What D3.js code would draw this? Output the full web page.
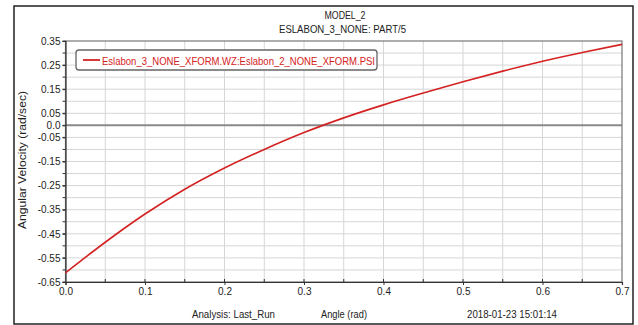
<!DOCTYPE html>
<html><head><meta charset="utf-8">
<script src="https://cdn.jsdelivr.net/npm/d3@7"></script>
<style>html,body{margin:0;padding:0;background:#fff;}svg{display:block;}</style>
</head><body>
<svg id="c" width="638" height="325"></svg>
<script>
const angle = [0, 0.05, 0.1, 0.15, 0.2, 0.25, 0.3, 0.35, 0.4, 0.45, 0.5, 0.55, 0.6, 0.65, 0.7];
const angVel = [-0.612, -0.485, -0.368, -0.265, -0.177, -0.100, -0.030, 0.031, 0.085, 0.134, 0.181, 0.225, 0.266, 0.302, 0.336];
const xTickLabels = ["0.0","0.1","0.2","0.3","0.4","0.5","0.6","0.7"];
const xTickValues = [0, 0.1, 0.2, 0.3, 0.4, 0.5, 0.6, 0.7];
const yTickValues = [0.35, 0.25, 0.15, 0.05, 0.0, -0.05, -0.15, -0.25, -0.35, -0.45, -0.55, -0.65];
const yTickLabels = ["0.35","0.25","0.15","0.05","0.0","-0.05","-0.15","-0.25","-0.35","-0.45","-0.55","-0.65"];
const title1 = "MODEL_2";
const title2 = "ESLABON_3_NONE: PART/5";
const legendLabel = "Eslabon_3_NONE_XFORM.WZ:Eslabon_2_NONE_XFORM.PSI";

const svg = d3.select("#c");
const FONT = "'Liberation Sans', Arial, sans-serif";
const L = 65.5, R = 622, T = 41, B = 282;
const x = d3.scaleLinear().domain([0, 0.7]).range([L, R]);
const y = d3.scaleLinear().domain([-0.65, 0.35]).range([B, T]);

// outer frame
svg.append("rect").attr("x", 14).attr("y", 6).attr("width", 619).attr("height", 318)
  .attr("fill", "#fff").attr("stroke", "#222").attr("stroke-width", 1.5);

// titles
svg.append("text").attr("x", 345).attr("y", 18.5).attr("text-anchor", "middle")
  .attr("font-family", FONT).attr("font-size", 10.5).attr("fill", "#222")
  .attr("textLength", 41).attr("lengthAdjust", "spacingAndGlyphs").text(title1);
svg.append("text").attr("x", 342.5).attr("y", 33).attr("text-anchor", "middle")
  .attr("font-family", FONT).attr("font-size", 10.5).attr("fill", "#222")
  .attr("textLength", 127).attr("lengthAdjust", "spacingAndGlyphs").text(title2);

// grid
const gridX = d3.range(1, 14).map(i => i * 0.05);
const gridY = d3.range(1, 20).map(i => -0.65 + i * 0.05);
svg.append("g").selectAll("line").data(gridX).join("line")
  .attr("x1", d => x(d)).attr("x2", d => x(d)).attr("y1", T).attr("y2", B)
  .attr("stroke", "#d6d6d6").attr("stroke-width", 1);
svg.append("g").selectAll("line").data(gridY).join("line")
  .attr("x1", L).attr("x2", R).attr("y1", d => y(d)).attr("y2", d => y(d))
  .attr("stroke", "#d6d6d6").attr("stroke-width", 1);

// zero line
svg.append("line").attr("x1", L).attr("x2", R).attr("y1", y(0)).attr("y2", y(0))
  .attr("stroke", "#8a8a8a").attr("stroke-width", 2);

// plot frame
svg.append("rect").attr("x", L).attr("y", T).attr("width", R - L).attr("height", B - T)
  .attr("fill", "none").attr("stroke", "#777").attr("stroke-width", 1.2);

// axes
const yAxis = d3.axisLeft(y).tickValues(yTickValues).tickSize(3).tickPadding(2)
  .tickFormat((d, i) => yTickLabels[i]);
const gy = svg.append("g").attr("transform", `translate(${L},0)`).call(yAxis);
gy.select(".domain").attr("stroke", "#333").attr("stroke-width", 1.2);
gy.selectAll(".tick line").attr("stroke", "#333");
gy.selectAll(".tick text").attr("font-family", FONT).attr("font-size", 10).attr("fill", "#222");
// minor y ticks
svg.append("g").selectAll("line").data(d3.range(0, 21).map(i => -0.65 + i * 0.05)).join("line")
  .attr("x1", L - 3).attr("x2", L).attr("y1", d => y(d)).attr("y2", d => y(d))
  .attr("stroke", "#333");

const xAxis = d3.axisBottom(x).tickValues(xTickValues).tickSize(3).tickPadding(3)
  .tickFormat((d, i) => xTickLabels[i]);
const gx = svg.append("g").attr("transform", `translate(0,${B})`).call(xAxis);
gx.select(".domain").attr("stroke", "#333").attr("stroke-width", 1.2);
gx.selectAll(".tick line").attr("stroke", "#333");
gx.selectAll(".tick text").attr("font-family", FONT).attr("font-size", 10).attr("fill", "#222");
// minor x ticks inside
svg.append("g").selectAll("line").data(d3.range(1, 14).map(i => i * 0.05)).join("line")
  .attr("x1", d => x(d)).attr("x2", d => x(d)).attr("y1", B - 3).attr("y2", B)
  .attr("stroke", "#333");

// curve
const line = d3.line().x((d, i) => x(angle[i])).y(d => y(d)).curve(d3.curveMonotoneX);
svg.append("path").datum(angVel).attr("d", line).attr("fill", "none")
  .attr("stroke", "#d42222").attr("stroke-width", 1.6);

// legend
svg.append("rect").attr("x", 76).attr("y", 50).attr("width", 301).attr("height", 20).attr("rx", 3)
  .attr("fill", "#fff").attr("stroke", "#666").attr("stroke-width", 1.3);
svg.append("line").attr("x1", 83).attr("x2", 100).attr("y1", 60).attr("y2", 60)
  .attr("stroke", "#d42222").attr("stroke-width", 1.8);
svg.append("text").attr("x", 102).attr("y", 64.5)
  .attr("font-family", FONT).attr("font-size", 11.5).attr("fill", "#d42222")
  .attr("textLength", 273).attr("lengthAdjust", "spacingAndGlyphs").text(legendLabel);

// axis labels
svg.append("text").attr("transform", "translate(26,160) rotate(-90)").attr("text-anchor", "middle")
  .attr("font-family", FONT).attr("font-size", 10.5).attr("fill", "#222")
  .attr("textLength", 138).attr("lengthAdjust", "spacingAndGlyphs").text("Angular Velocity (rad/sec)");
svg.append("text").attr("x", 192).attr("y", 318)
  .attr("font-family", FONT).attr("font-size", 10.5).attr("fill", "#222")
  .attr("textLength", 83).attr("lengthAdjust", "spacingAndGlyphs").text("Analysis:  Last_Run");
svg.append("text").attr("x", 321).attr("y", 318)
  .attr("font-family", FONT).attr("font-size", 10.5).attr("fill", "#222")
  .attr("textLength", 46).attr("lengthAdjust", "spacingAndGlyphs").text("Angle (rad)");
svg.append("text").attr("x", 467).attr("y", 318)
  .attr("font-family", FONT).attr("font-size", 10.5).attr("fill", "#222")
  .attr("textLength", 90).attr("lengthAdjust", "spacingAndGlyphs").text("2018-01-23 15:01:14");
</script>
</body></html>
